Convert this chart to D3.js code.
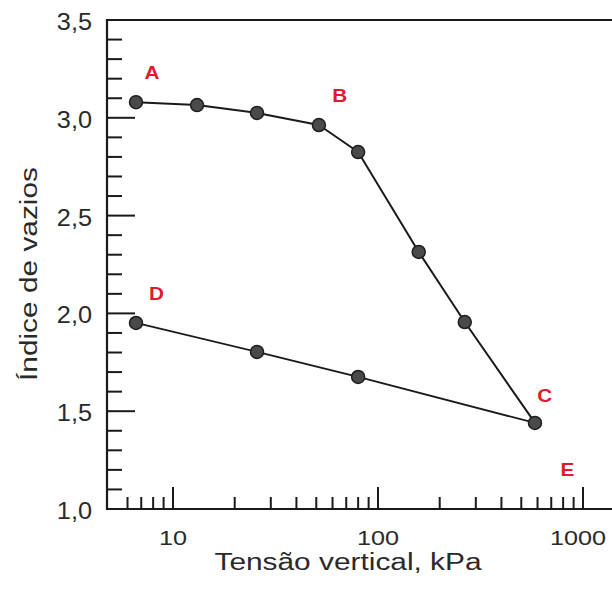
<!DOCTYPE html>
<html>
<head>
<meta charset="utf-8">
<script src="https://cdn.jsdelivr.net/npm/d3@7"></script>
<style>
    body { margin: 0; background: #fff; }
    svg { display: block; }
</style>
</head>
<body>
<div id="chart"></div>
<script>
/*
    CURVA DE COMPRESSIBILIDADE (e x log sigma)
*/

// loading branch A -> B -> C
const loadStress = [6.6, 13.1, 25.7, 51.5, 80, 158, 265, 583]
const loadVoid = [3.08, 3.065, 3.025, 2.963, 2.825, 2.314, 1.956, 1.44]

// unloading branch C -> D
const unloadStress = [583, 80, 25.7, 6.6]
const unloadVoid = [1.44, 1.675, 1.803, 1.951]

// point letters
const letters = ["A", "B", "C", "D", "E"]
const letterStress = [7.9, 65, 650, 8.3, 840]
const letterVoid = [3.23, 3.11, 1.58, 2.10, 1.20]

// ticks
const yMajorTicks = [1.5, 2.0, 2.5, 3.0]
const yLabels = [1.0, 1.5, 2.0, 2.5, 3.0, 3.5]
const xMajorTicks = [10, 100, 1000]

const width = 612,
    height = 589;
const frame = ({ left: 107, right: 612, top: 20, bottom: 509 })

var svg = d3.select("#chart").append("svg")
    .attr("width", width)
    .attr("height", height)

var xScale = d3.scaleLog()
    .domain([10, 1000])
    .range([173, 583])

var yScale = d3.scaleLinear()
    .domain([1.0, 3.5])
    .range([frame.bottom, frame.top])

const axisColor = "#1a1a1a"
const textColor = "#2a2a2a"
const font = "'Liberation Sans', Arial, sans-serif"

// frame: top, left, bottom (no right side)
svg.append("path")
    .attr("d", `M${frame.right},${frame.top}H${frame.left}V${frame.bottom}H${frame.right}`)
    .attr("fill", "none")
    .attr("stroke", axisColor)
    .attr("stroke-width", 2.2)

// y ticks, every 0.1 pointing inward
var yMinor = d3.range(11, 35).map(v => v / 10).filter(v => !yMajorTicks.some(m => Math.abs(m - v) < 1e-6))
svg.append("g").selectAll("line")
    .data(yMinor)
    .enter().append("line")
    .attr("x1", frame.left).attr("x2", frame.left + 15)
    .attr("y1", d => yScale(d)).attr("y2", d => yScale(d))
    .attr("stroke", axisColor).attr("stroke-width", 2)
svg.append("g").selectAll("line")
    .data(yMajorTicks)
    .enter().append("line")
    .attr("x1", frame.left).attr("x2", frame.left + 28)
    .attr("y1", d => yScale(d)).attr("y2", d => yScale(d))
    .attr("stroke", axisColor).attr("stroke-width", 2)

// the scanned font is a bit wider than Arial, so stretch it horizontally
svg.append("g").selectAll("text")
    .data(yLabels)
    .enter().append("text")
    .attr("transform", d => `translate(92,${yScale(d) + 10}) scale(1.1,1)`)
    .attr("text-anchor", "end")
    .style("font-family", font)
    .style("font-size", "23px")
    .attr("fill", textColor)
    .text(d => d3.format(".1f")(d).replace(".", ","))

// x ticks, log minor ticks pointing up
var xMinor = []
for (let dec of [1, 10, 100]) {
    for (let k = 2; k <= 9; k++) xMinor.push(dec * k)
}
xMinor = xMinor.filter(v => xScale(v) > frame.left + 12)
svg.append("g").selectAll("line")
    .data(xMinor)
    .enter().append("line")
    .attr("x1", d => xScale(d)).attr("x2", d => xScale(d))
    .attr("y1", frame.bottom).attr("y2", frame.bottom - 12)
    .attr("stroke", axisColor).attr("stroke-width", 2)
svg.append("g").selectAll("line")
    .data(xMajorTicks)
    .enter().append("line")
    .attr("x1", d => xScale(d)).attr("x2", d => xScale(d))
    .attr("y1", frame.bottom).attr("y2", frame.bottom - 22)
    .attr("stroke", axisColor).attr("stroke-width", 2)

svg.append("g").selectAll("text")
    .data(xMajorTicks)
    .enter().append("text")
    .attr("transform", d => `translate(${xScale(d) - (d == 1000 ? 5 : 0)},545) scale(1.2,1)`)
    .attr("text-anchor", "middle")
    .style("font-family", font)
    .style("font-size", "21px")
    .attr("fill", textColor)
    .text(d => d)

// axis titles
svg.append("text")
    .attr("transform", "translate(348,570) scale(1.27,1)")
    .attr("text-anchor", "middle")
    .style("font-family", font)
    .style("font-size", "23.5px")
    .attr("fill", textColor)
    .text("Tensão vertical, kPa")

svg.append("text")
    .attr("transform", "translate(37,274) rotate(-90) scale(1.27,1)")
    .attr("text-anchor", "middle")
    .style("font-family", font)
    .style("font-size", "23.5px")
    .attr("fill", textColor)
    .text("Índice de vazios")

// curves (straight segments between readings)
var loadData = loadStress.map((s, i) => ({ s: s, e: loadVoid[i] }))
var unloadData = unloadStress.map((s, i) => ({ s: s, e: unloadVoid[i] }))

var line = d3.line()
    .x(d => xScale(d.s))
    .y(d => yScale(d.e))

svg.append("path")
    .datum(loadData)
    .attr("d", line)
    .attr("fill", "none")
    .attr("stroke", "#1a1a1a")
    .attr("stroke-width", 2)
    .attr("stroke-linejoin", "round")
svg.append("path")
    .datum(unloadData)
    .attr("d", line)
    .attr("fill", "none")
    .attr("stroke", "#1a1a1a")
    .attr("stroke-width", 1.8)

// markers
svg.append("g").selectAll("circle")
    .data(loadData.concat(unloadData.slice(1)))
    .enter().append("circle")
    .attr("cx", d => xScale(d.s))
    .attr("cy", d => yScale(d.e))
    .attr("r", 6.5)
    .attr("fill", "#4a4a4a")
    .attr("stroke", "#1e1e1e")
    .attr("stroke-width", 1.5)

// point letters
svg.append("g").selectAll("text")
    .data(letters)
    .enter().append("text")
    .attr("transform", (d, i) => `translate(${xScale(letterStress[i])},${yScale(letterVoid[i]) + 6}) scale(1.15,1)`)
    .attr("text-anchor", "middle")
    .style("font-family", font)
    .style("font-size", "18px")
    .style("font-weight", "bold")
    .attr("fill", "#e01a2e")
    .text(d => d)
</script>
</body>
</html>
